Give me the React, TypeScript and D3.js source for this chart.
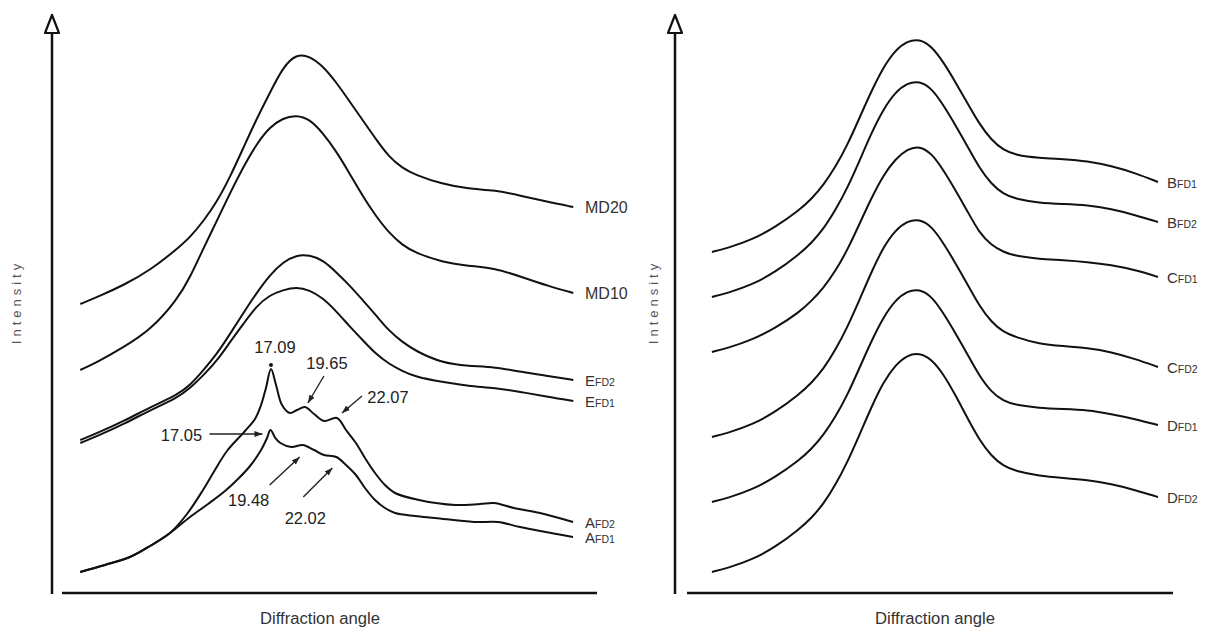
import { useEffect, useRef } from 'react';
import * as d3 from 'd3';

const W = 1210;
const H = 629;

// 2θ sampling (deg) used for the smooth patterns
const ANGLES = [2.7, 4, 6, 8, 10, 11, 12, 13, 14, 15, 16, 17, 18, 19, 20, 21, 22, 23, 24, 25, 26, 27, 28, 30, 32, 34, 36, 38, 39.9];

// left panel (a.u., stacked)
const md20 = [289, 296, 308, 323, 344, 356, 372, 391, 416, 445, 474, 500, 526, 539, 537, 527, 511, 492, 473, 454, 436, 425, 418, 409, 404, 403, 397, 391, 386];
const md10 = [223, 231, 246, 263, 293, 316, 345, 372, 400, 426, 449, 466, 475, 478, 474, 460, 442, 420, 397, 377, 360, 348, 340, 331, 327, 325, 316, 307, 300];
const efd2 = [153, 160, 172, 186, 198, 208, 223, 239, 259, 280, 300, 318, 331, 338, 338, 333, 321, 308, 293, 278, 262, 251, 242, 230, 227, 226, 221, 217, 213];
const efd1 = [150, 157, 169, 183, 195, 205, 218, 232, 251, 269, 287, 298, 303, 306, 303, 295, 282, 267, 253, 239, 229, 222, 216, 211, 207, 205, 201, 196, 192];

// crystalline samples need their own finer sampling
const afd2Angles = [2.7, 4.56, 6.45, 7.96, 9.47, 10.75, 11.96, 12.86, 13.77, 15.13, 15.88, 16.34, 16.71, 17.09, 17.47, 17.92, 18.52, 19.05, 19.65, 20.34, 21.09, 22.07, 22.75, 23.5, 24.18, 24.94, 25.69, 26.45, 28.26, 30.98, 32.86, 33.92, 35.43, 37.39, 39.88];
const afd2 = [21, 28, 36, 47, 60, 79, 103, 123, 142, 162, 174, 188, 205, 224, 208, 188, 180, 183, 186, 179, 172, 175, 163, 150, 135, 120, 108, 100, 93, 88, 89, 90, 85, 80, 71];
const afd1Angles = [2.7, 4.56, 6.45, 7.96, 9.47, 10.98, 12.34, 13.62, 14.6, 15.51, 16.34, 16.79, 17.05, 17.42, 17.8, 18.63, 19.48, 20.34, 21.09, 22.02, 22.75, 23.5, 24.18, 24.94, 25.69, 26.45, 27.96, 29.47, 32.41, 34.22, 35.88, 39.88];
const afd1 = [21, 28, 36, 47, 60, 76, 89, 102, 114, 127, 143, 155, 163, 155, 150, 146, 148, 143, 138, 136, 128, 118, 105, 93, 85, 80, 77, 75, 71, 71, 66, 56];

// right panel
const bfd1 = [341, 345, 353, 366, 383, 394, 408, 426, 448, 475, 502, 526, 543, 552, 554, 547, 531, 511, 490, 469, 453, 443, 438, 435, 434, 432, 427, 420, 411];
const bfd2 = [296, 300, 308, 321, 339, 350, 364, 383, 405, 432, 460, 484, 501, 510, 512, 505, 488, 468, 447, 425, 409, 399, 394, 390, 389, 388, 384, 378, 371];
const cfd1 = [241, 245, 253, 265, 281, 292, 305, 322, 343, 369, 395, 418, 434, 444, 447, 440, 423, 403, 382, 360, 348, 341, 337, 334, 333, 331, 328, 323, 316];
const cfd2 = [156, 160, 168, 181, 199, 210, 224, 243, 266, 293, 321, 346, 363, 372, 374, 367, 350, 330, 309, 287, 271, 261, 256, 249, 247, 245, 241, 234, 226];
const dfd1 = [91, 95, 103, 116, 133, 144, 158, 176, 198, 225, 252, 276, 293, 302, 304, 297, 280, 260, 239, 217, 201, 192, 188, 185, 184, 183, 179, 174, 168];
const dfd2 = [21, 25, 33, 46, 64, 75, 89, 108, 131, 158, 186, 211, 228, 238, 240, 234, 219, 198, 175, 153, 137, 127, 122, 117, 115, 113, 109, 103, 96];

const leftNames = ['MD20', 'MD10', 'EFD2', 'EFD1', 'AFD2', 'AFD1'];
const rightNames = ['BFD1', 'BFD2', 'CFD1', 'CFD2', 'DFD1', 'DFD2'];

const peakNotes = [
  { label: '17.09', angle: 17.09, series: 'AFD2' },
  { label: '19.65', angle: 19.65, series: 'AFD2' },
  { label: '22.07', angle: 22.07, series: 'AFD2' },
  { label: '17.05', angle: 17.05, series: 'AFD1' },
  { label: '19.48', angle: 19.48, series: 'AFD1' },
  { label: '22.02', angle: 22.02, series: 'AFD1' },
];

type Series = { name: string; pts: [number, number][]; sharp?: boolean };

const zip = (a: number[], v: number[]): [number, number][] => a.map((x, i) => [x, v[i]]);

const leftSeries: Series[] = [
  { name: leftNames[0], pts: zip(ANGLES, md20) },
  { name: leftNames[1], pts: zip(ANGLES, md10) },
  { name: leftNames[2], pts: zip(ANGLES, efd2) },
  { name: leftNames[3], pts: zip(ANGLES, efd1) },
  { name: leftNames[4], pts: zip(afd2Angles, afd2), sharp: true },
  { name: leftNames[5], pts: zip(afd1Angles, afd1), sharp: true },
];
const rightSeries: Series[] = [bfd1, bfd2, cfd1, cfd2, dfd1, dfd2].map((v, i) => ({ name: rightNames[i], pts: zip(ANGLES, v) }));

// label / arrow placement for the peak notes (px offsets from the peak)
const NOTE_LAYOUT: Record<string, { tx: number; ty: number; a?: [number, number, number, number]; dot?: boolean }> = {
  '17.09': { tx: 4, ty: -16, dot: true },
  '19.65': { tx: 22, ty: -38, a: [19, -31, 3, -4] },
  '22.07': { tx: 51, ty: -15, a: [25, -22, 5, -5] },
  '17.05': { tx: -89, ty: 11, a: [-61, 4, -8, 4] },
  '19.48': { tx: -54, ty: 61, a: [-33, 40, -3, 12] },
  '22.02': { tx: -31, ty: 67, a: [-33, 40, -4, 11] },
};

const FONT = 'Arial, "Liberation Sans", Helvetica, sans-serif';

export default function App() {
  const svgRef = useRef<SVGSVGElement | null>(null);

  useEffect(() => {
    if (!svgRef.current) return;
    const svg = d3.select(svgRef.current);
    svg.selectAll('*').remove();
    svg.append('rect').attr('width', W).attr('height', H).attr('fill', '#fff');

    svg.append('defs').append('marker')
      .attr('id', 'ah').attr('viewBox', '0 0 8 6')
      .attr('refX', 8).attr('refY', 3)
      .attr('markerWidth', 8).attr('markerHeight', 6)
      .attr('markerUnits', 'userSpaceOnUse').attr('orient', 'auto')
      .append('path').attr('d', 'M0,0L8,3L0,6Z').attr('fill', '#222');

    const y = d3.scaleLinear().domain([0, 565]).range([593, 28]);

    const panels = [
      { series: leftSeries, axisX: 52, xr: [62, 597], xd: [1.32, 41.69], titleX: 21, angleX: 320, labelX: 585 },
      { series: rightSeries, axisX: 675, xr: [687, 1173], xd: [0.62, 41.15], titleX: 658, angleX: 935, labelX: 1167 },
    ];

    panels.forEach((p, pi) => {
      const x = d3.scaleLinear().domain(p.xd).range(p.xr);
      const g = svg.append('g');

      // axes
      g.append('line').attr('x1', p.axisX).attr('x2', p.axisX).attr('y1', 33).attr('y2', 594)
        .attr('stroke', '#111').attr('stroke-width', 2.5);
      g.append('path')
        .attr('d', `M${p.axisX},15L${p.axisX - 7},33L${p.axisX + 7},33Z`)
        .attr('fill', '#fff').attr('stroke', '#111').attr('stroke-width', 2.2).attr('stroke-linejoin', 'round');
      g.append('line').attr('x1', p.xr[0]).attr('x2', p.xr[1]).attr('y1', 593).attr('y2', 593)
        .attr('stroke', '#111').attr('stroke-width', 2.5);

      g.append('text')
        .attr('transform', `translate(${p.titleX},302) rotate(-90)`)
        .attr('text-anchor', 'middle').attr('fill', '#555')
        .style('font-family', FONT).style('font-size', '13px').style('letter-spacing', '4px')
        .text('Intensity');
      g.append('text')
        .attr('x', p.angleX - 60).attr('y', 624)
        .attr('textLength', 120).attr('lengthAdjust', 'spacingAndGlyphs')
        .attr('fill', '#333').style('font-family', FONT).style('font-size', '16px')
        .text('Diffraction angle');

      const smooth = d3.line<[number, number]>()
        .x(d => x(d[0])).y(d => y(d[1]))
        .curve(d3.curveBasis);
      const sharp = d3.line<[number, number]>()
        .x(d => x(d[0])).y(d => y(d[1]))
        .curve(d3.curveCatmullRom.alpha(0.5));

      p.series.forEach(s => {
        g.append('path').attr('d', (s.sharp ? sharp : smooth)(s.pts) || '')
          .attr('fill', 'none').attr('stroke', '#111').attr('stroke-width', 2)
          .attr('stroke-linejoin', 'round');
        const last = s.pts[s.pts.length - 1];
        const t = g.append('text')
          .attr('x', p.labelX).attr('y', y(last[1]) + 6)
          .attr('fill', '#333').style('font-family', FONT);
        if (s.name.startsWith('MD')) {
          t.style('font-size', '16px').text(s.name);
        } else {
          t.append('tspan').style('font-size', '15px').text(s.name[0]);
          t.append('tspan').style('font-size', '10.5px').text(s.name.slice(1));
        }
      });

      // peak annotations (left panel only)
      if (pi === 0) {
        peakNotes.forEach(n => {
          const s = p.series.find(d => d.name === n.series)!;
          const pt = s.pts.find(d => d[0] === n.angle)!;
          const px = x(pt[0]);
          const py = y(pt[1]);
          const lay = NOTE_LAYOUT[n.label];
          g.append('text')
            .attr('x', px + lay.tx).attr('y', py + lay.ty)
            .attr('text-anchor', 'middle').attr('fill', '#222')
            .style('font-family', FONT).style('font-size', '16.5px')
            .text(n.label);
          if (lay.dot) {
            g.append('circle').attr('cx', px).attr('cy', py - 4).attr('r', 2).attr('fill', '#111');
          }
          if (lay.a) {
            g.append('line')
              .attr('x1', px + lay.a[0]).attr('y1', py + lay.a[1])
              .attr('x2', px + lay.a[2]).attr('y2', py + lay.a[3])
              .attr('stroke', '#222').attr('stroke-width', 1.4)
              .attr('marker-end', 'url(#ah)');
          }
        });
      }
    });
  }, []);

  return (
    <svg ref={svgRef} width={W} height={H}
      style={{ position: 'absolute', left: 0, top: 0, display: 'block' }} />
  );
}
